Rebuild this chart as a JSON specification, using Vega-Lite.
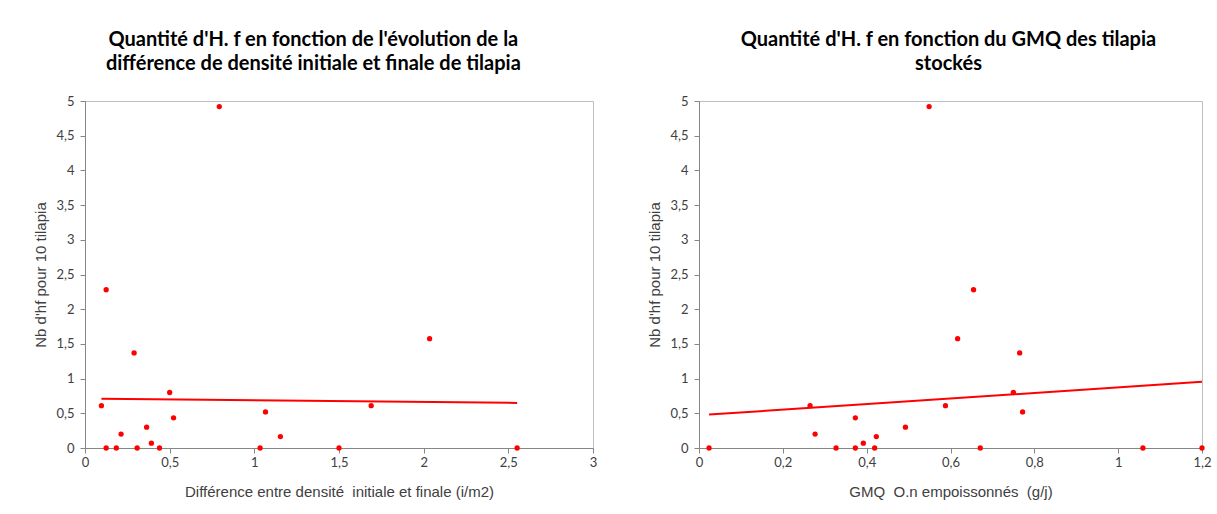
{
  "$schema": "https://vega.github.io/schema/vega-lite/v6.json",
  "background": "white",
  "padding": {"left": 33, "top": 29, "right": 5, "bottom": 5},
  "spacing": 49,
  "datasets": {
    "left": [
      {"d": 0.097, "n": 0.61}, {"d": 0.125, "n": 2.28}, {"d": 0.125, "n": 0}, {"d": 0.185, "n": 0},
      {"d": 0.213, "n": 0.2}, {"d": 0.29, "n": 1.37}, {"d": 0.308, "n": 0}, {"d": 0.364, "n": 0.3},
      {"d": 0.392, "n": 0.07}, {"d": 0.44, "n": 0}, {"d": 0.5, "n": 0.8}, {"d": 0.523, "n": 0.435},
      {"d": 0.793, "n": 4.92}, {"d": 1.034, "n": 0}, {"d": 1.066, "n": 0.52}, {"d": 1.154, "n": 0.165},
      {"d": 1.5, "n": 0}, {"d": 1.69, "n": 0.61}, {"d": 2.035, "n": 1.575}, {"d": 2.552, "n": 0}
    ],
    "right": [
      {"g": 0.024, "n": 0}, {"g": 0.265, "n": 0.61}, {"g": 0.277, "n": 0.2}, {"g": 0.327, "n": 0},
      {"g": 0.373, "n": 0.435}, {"g": 0.373, "n": 0}, {"g": 0.392, "n": 0.07}, {"g": 0.419, "n": 0},
      {"g": 0.423, "n": 0.165}, {"g": 0.4925, "n": 0.3}, {"g": 0.549, "n": 4.92}, {"g": 0.588, "n": 0.61},
      {"g": 0.617, "n": 1.575}, {"g": 0.655, "n": 2.28}, {"g": 0.671, "n": 0}, {"g": 0.75, "n": 0.8},
      {"g": 0.765, "n": 1.37}, {"g": 0.772, "n": 0.52}, {"g": 1.059, "n": 0}, {"g": 1.2, "n": 0}
    ]
  },
  "hconcat": [
    {
      "width": 508,
      "height": 347,
      "title": {"text": ["Quantité d'H. f en fonction de l'évolution de la", "différence de densité initiale et finale de tilapia"], "frame": "bounds", "dx": -2},
      "data": {"name": "left"},
      "encoding": {
        "x": {"field": "d", "type": "quantitative", "scale": {"domain": [0, 3], "nice": false, "zero": false},
          "axis": {"title": "Différence entre densité\u00a0 initiale et finale (i/m2)", "values": [0, 0.5, 1, 1.5, 2, 2.5, 3]}},
        "y": {"field": "n", "type": "quantitative", "scale": {"domain": [0, 5], "nice": false},
          "axis": {"title": "Nb d'hf pour 10 tilapia", "values": [0, 0.5, 1, 1.5, 2, 2.5, 3, 3.5, 4, 4.5, 5]}}
      },
      "layer": [
        {
          "mark": {"type": "circle", "color": "#FF0000", "opacity": 1, "size": 28}
        },
        {
          "transform": [{"regression": "n", "on": "d"}],
          "mark": {"type": "line", "color": "#FF0000", "strokeWidth": 2}
        }
      ]
    },
    {
      "width": 503,
      "height": 347,
      "title": {"text": ["Quantité d'H. f en fonction du GMQ des tilapia", "stockés"], "frame": "bounds", "dx": 19},
      "data": {"name": "right"},
      "encoding": {
        "x": {"field": "g", "type": "quantitative", "scale": {"domain": [0, 1.2], "nice": false, "zero": false},
          "axis": {"title": "GMQ\u00a0 O.n empoissonnés\u00a0 (g/j)", "values": [0, 0.2, 0.4, 0.6, 0.8, 1, 1.2]}},
        "y": {"field": "n", "type": "quantitative", "scale": {"domain": [0, 5], "nice": false},
          "axis": {"title": "Nb d'hf pour 10 tilapia", "values": [0, 0.5, 1, 1.5, 2, 2.5, 3, 3.5, 4, 4.5, 5]}}
      },
      "layer": [
        {
          "mark": {"type": "circle", "color": "#FF0000", "opacity": 1, "size": 28}
        },
        {
          "transform": [{"regression": "n", "on": "g"}],
          "mark": {"type": "line", "color": "#FF0000", "strokeWidth": 2}
        }
      ]
    }
  ],
  "config": {
    "view": {"stroke": "#BFBFBF", "strokeWidth": 1},
    "title": {"font": "Lato", "fontSize": 20, "fontWeight": "bold", "color": "#000000", "anchor": "middle", "lineHeight": 24, "offset": 21},
    "axis": {
      "grid": false,
      "domainColor": "#868686",
      "tickColor": "#868686",
      "tickSize": 5,
      "labelFont": "Lato",
      "labelFontSize": 13,
      "labelColor": "#404040",
      "labelOverlap": false,
      "titleFont": "Liberation Sans",
      "titleFontSize": 15,
      "titleFontWeight": "normal",
      "titleColor": "#404040",
      "format": "~g",
      "labelExpr": "replace(datum.label, '.', ',')"
    },
    "axisY": {"labelPadding": 6, "titlePadding": 7},
    "axisX": {"labelPadding": 3, "titlePadding": 15, "labelFlush": false}
  }
}
